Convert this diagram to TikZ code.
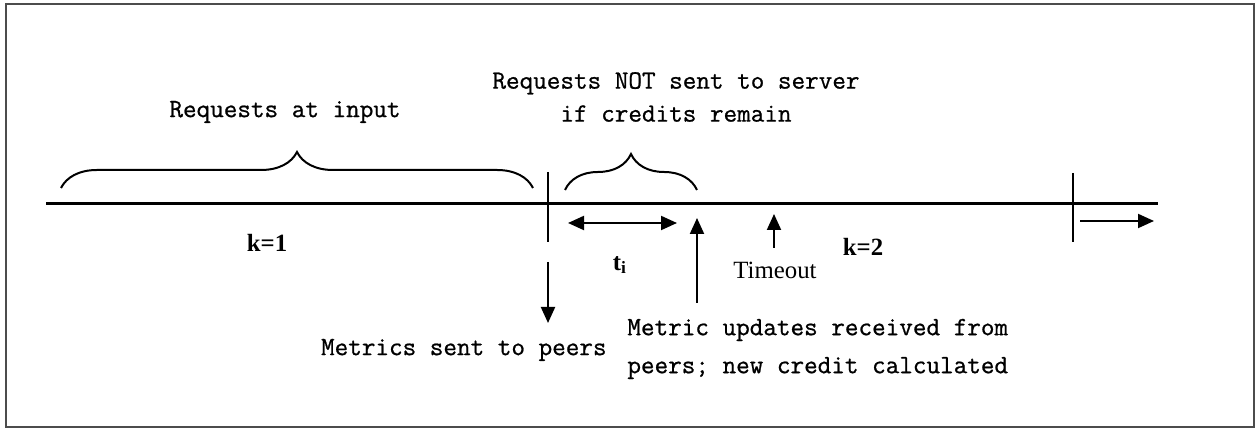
\documentclass[tikz,border=0pt]{standalone}
\usepackage{fontspec}
\newfontfamily\tnr{Liberation Serif}
\newfontfamily\typew{Latin Modern Mono}[AutoFakeBold=0.8]
\usepackage{tikz}
\usetikzlibrary{arrows.meta,decorations.pathreplacing}
\tikzset{>={Triangle[width=7pt,length=8pt]}}
\tikzset{
  mono/.style={font=\fontsize{13.2}{16.5}\selectfont\typew\bfseries, inner sep=0pt},
  roman/.style={font=\fontsize{12.4}{14}\selectfont\tnr, inner sep=0pt},
  marker/.style={line width=1.2pt},
  pointer/.style={->, line width=1pt},
  curly/.style={decorate, decoration={brace, amplitude=18pt}, line width=1pt},
}

\begin{document}
\begin{tikzpicture}[x=0.5pt,y=-0.5pt]

  \newcommand\YT{204};
  \newcommand\XA{548};
  \newcommand\XB{1073};

  \useasboundingbox (0,0) rectangle (1258,431);
  \draw[black!70, line width=1.1pt] (6,4) rectangle (1254,427);

  % time axis and round limits
  \coordinate (axisstart) at (46,\YT);
  \coordinate (axisend) at (1158,\YT);
  \draw[line width=1.5pt] (axisstart) -- (axisend);

  \coordinate (limAtop) at (\XA,172);
  \coordinate (limAbot) at (\XA,242);
  \coordinate (limBtop) at (\XB,173);
  \coordinate (limBbot) at (\XB,242);
  \draw[marker] (limAtop) -- (limAbot);
  \draw[marker] (limBtop) -- (limBbot);

  % braces
  \coordinate (inL) at (61,188);
  \coordinate (inR) at (533,188);
  \draw[curly] (inL) -- (inR);
  \node[mono] (input) at (285,112) {Requests at input};

  \coordinate (holdL) at (565,190);
  \coordinate (holdR) at (697,190);
  \draw[curly] (holdL) -- (holdR);
  \node[mono, align=center] (hold) at (676,97)
    {Requests NOT sent to server\\if credits remain};

  % round labels
  \node[roman, font=\fontsize{12.4}{14}\selectfont\tnr\bfseries] (k1) at (267,243) {k=1};
  \node[roman, font=\fontsize{12.4}{14}\selectfont\tnr\bfseries] (k2) at (863,247) {k=2};

  % interval t_i
  \coordinate (tiL) at (568,223);
  \coordinate (tiR) at (677,223);
  \draw[<->, line width=1pt] (tiL) -- (tiR);
  \node[roman, font=\fontsize{12.4}{14}\selectfont\tnr\bfseries] (ti) at (620,265) {t\textsubscript{i}};

  % metrics out
  \coordinate (sendtop) at (\XA,262);
  \coordinate (sendbot) at (\XA,323);
  \draw[pointer] (sendtop) -- (sendbot);
  \node[mono, anchor=east] (send) at (607,350) {Metrics sent to peers};

  % updates in
  \coordinate (recvbot) at (697,303);
  \coordinate (recvtop) at (697,218);
  \draw[pointer] (recvbot) -- (recvtop);
  \node[mono, align=left, anchor=west, font=\fontsize{13.2}{19}\selectfont\typew\bfseries] (recv) at (627,349)
    {Metric updates received from\\peers; new credit calculated};

  % timeout
  \coordinate (tobot) at (774,248);
  \coordinate (totop) at (774,214);
  \draw[pointer] (tobot) -- (totop);
  \node[roman] (timeout) at (775,270) {Timeout};

  % next round
  \coordinate (nextL) at (1080,221);
  \coordinate (nextR) at (1154,221);
  \draw[pointer] (nextL) -- (nextR);

\end{tikzpicture}
\end{document}
